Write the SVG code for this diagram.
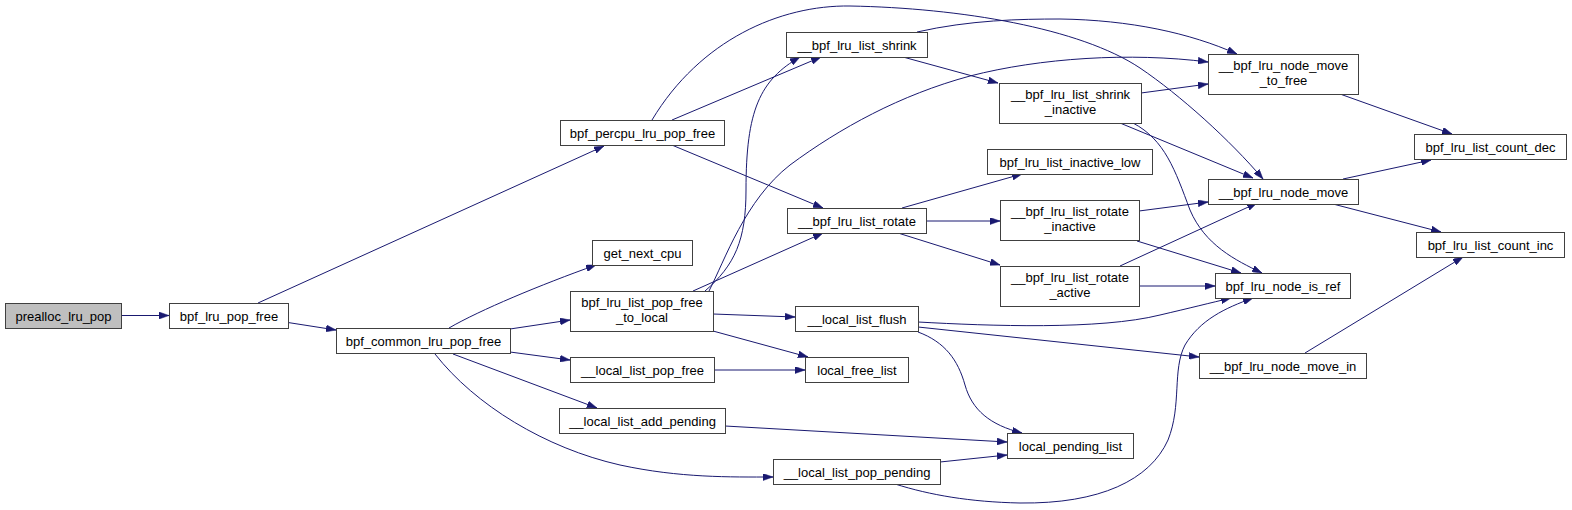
<svg xmlns="http://www.w3.org/2000/svg" width="1572" height="510" viewBox="0 0 1572 510">
<style>
.n rect{fill:#fff;stroke:#404040;stroke-width:1}
.n.root rect{fill:#bfbfbf}
.n text{font-family:"Liberation Sans",Arial,Helvetica,sans-serif;font-size:13px;fill:#000;text-anchor:middle}
.e path{fill:none;stroke:#191970;stroke-width:1;marker-end:url(#ah)}
</style>
<defs>
<marker id="ah" viewBox="0 0 10 7" refX="10" refY="3.5" markerWidth="10" markerHeight="7" markerUnits="userSpaceOnUse" orient="auto">
<path d="M0,0 L10,3.5 L0,7 z" fill="#191970" stroke="#191970" stroke-width="0.5"/>
</marker>
</defs>
<rect width="1572" height="510" fill="#fff"/>
<g id="connectors" class="e">
<path d="M121,315.5 L169,315.5"/>
<path d="M258,303 L604,146"/>
<path d="M288,322.5 L336,330"/>
<path d="M449,328 C480,310 540,285 596,265"/>
<path d="M510,329 L570,320"/>
<path d="M510,352 L570,360"/>
<path d="M453,354 L597,408"/>
<path d="M435,354 C475,405 545,448 620,465 C680,478 730,477 773,477"/>
<path d="M672,120 L821,57"/>
<path d="M673,145.5 L823,208"/>
<path d="M652,120 C700,40 780,5 850,6 C960,8 1080,28 1140,68 C1180,95 1230,140 1263,179"/>
<path d="M705,291 C735,265 746,240 746,190 C746,110 760,80 800,57"/>
<path d="M709,291 C725,260 745,200 790,165 C840,128 900,95 970,76 C1040,58 1130,52 1208,62"/>
<path d="M693,291 L823,233"/>
<path d="M713,314 L795,317"/>
<path d="M713,331 L808,357"/>
<path d="M714,370 L805,370"/>
<path d="M725,426 L1007,442"/>
<path d="M940,462 L1007,455"/>
<path d="M895,484 C930,495 970,502 1020,503 C1100,504 1150,480 1168,440 C1182,405 1172,370 1185,345 C1200,320 1225,308 1253,298"/>
<path d="M918,322 C990,326 1100,330 1160,315 C1190,308 1210,303 1231,298"/>
<path d="M918,327 L1199,357"/>
<path d="M918,332 C945,342 958,360 965,385 C972,410 990,425 1022,433"/>
<path d="M903,57 L998,83"/>
<path d="M917,32 C970,20 1020,19 1060,19 C1130,20 1190,33 1237,54"/>
<path d="M902,208 L1022,174"/>
<path d="M926,221 L1000,221"/>
<path d="M898,233 L1000,265"/>
<path d="M1141,93 L1208,84"/>
<path d="M1120,123 L1253,178"/>
<path d="M1133,123 C1165,140 1175,170 1190,210 C1205,245 1235,260 1262,273"/>
<path d="M1139,211 L1208,202"/>
<path d="M1137,241 L1241,273"/>
<path d="M1120,266 L1257,203"/>
<path d="M1139,286 L1215,286"/>
<path d="M1340,94 L1452,134"/>
<path d="M1343,179 L1431,160"/>
<path d="M1333,204 L1441,232"/>
<path d="M1305,353 L1463,257"/>
</g>
<g id="prealloc_lru_pop" class="n root"><rect x="5.5" y="303.5" width="116" height="25"/><text x="63.5" y="320.5">prealloc_lru_pop</text></g>
<g id="bpf_lru_pop_free" class="n"><rect x="169.5" y="303.5" width="119" height="25"/><text x="229" y="320.5">bpf_lru_pop_free</text></g>
<g id="bpf_common_lru_pop_free" class="n"><rect x="336.5" y="328.5" width="174" height="25"/><text x="423.5" y="345.5">bpf_common_lru_pop_free</text></g>
<g id="bpf_percpu_lru_pop_free" class="n"><rect x="560.5" y="120.5" width="164" height="25"/><text x="642.5" y="137.5">bpf_percpu_lru_pop_free</text></g>
<g id="get_next_cpu" class="n"><rect x="592.5" y="240.5" width="100" height="25"/><text x="642.5" y="257.5">get_next_cpu</text></g>
<g id="bpf_lru_list_pop_free_to_local" class="n"><rect x="570.5" y="291.5" width="143" height="40"/><text x="642" y="307">bpf_lru_list_pop_free</text><text x="642" y="322">_to_local</text></g>
<g id="__local_list_pop_free" class="n"><rect x="570.5" y="357.5" width="144" height="25"/><text x="642.5" y="374.5">__local_list_pop_free</text></g>
<g id="__local_list_add_pending" class="n"><rect x="559.5" y="408.5" width="166" height="25"/><text x="642.5" y="425.5">__local_list_add_pending</text></g>
<g id="__bpf_lru_list_shrink" class="n"><rect x="786.5" y="32.5" width="141" height="25"/><text x="857" y="49.5">__bpf_lru_list_shrink</text></g>
<g id="__bpf_lru_list_rotate" class="n"><rect x="787.5" y="208.5" width="139" height="25"/><text x="857" y="225.5">__bpf_lru_list_rotate</text></g>
<g id="__local_list_flush" class="n"><rect x="795.5" y="306.5" width="123" height="25"/><text x="857" y="323.5">__local_list_flush</text></g>
<g id="local_free_list" class="n"><rect x="805.5" y="357.5" width="103" height="25"/><text x="857" y="374.5">local_free_list</text></g>
<g id="__local_list_pop_pending" class="n"><rect x="773.5" y="459.5" width="167" height="25"/><text x="857" y="476.5">__local_list_pop_pending</text></g>
<g id="__bpf_lru_list_shrink_inactive" class="n"><rect x="999.5" y="83.5" width="142" height="40"/><text x="1070.5" y="99">__bpf_lru_list_shrink</text><text x="1070.5" y="114">_inactive</text></g>
<g id="bpf_lru_list_inactive_low" class="n"><rect x="987.5" y="149.5" width="165" height="25"/><text x="1070" y="166.5">bpf_lru_list_inactive_low</text></g>
<g id="__bpf_lru_list_rotate_inactive" class="n"><rect x="1000.5" y="200.5" width="139" height="40"/><text x="1070" y="216">__bpf_lru_list_rotate</text><text x="1070" y="231">_inactive</text></g>
<g id="__bpf_lru_list_rotate_active" class="n"><rect x="1000.5" y="266.5" width="139" height="40"/><text x="1070" y="282">__bpf_lru_list_rotate</text><text x="1070" y="297">_active</text></g>
<g id="local_pending_list" class="n"><rect x="1007.5" y="433.5" width="126" height="25"/><text x="1070.5" y="450.5">local_pending_list</text></g>
<g id="__bpf_lru_node_move_to_free" class="n"><rect x="1208.5" y="54.5" width="150" height="40"/><text x="1283.5" y="70">__bpf_lru_node_move</text><text x="1283.5" y="85">_to_free</text></g>
<g id="__bpf_lru_node_move" class="n"><rect x="1208.5" y="179.5" width="150" height="25"/><text x="1283.5" y="196.5">__bpf_lru_node_move</text></g>
<g id="bpf_lru_node_is_ref" class="n"><rect x="1215.5" y="273.5" width="135" height="25"/><text x="1283" y="290.5">bpf_lru_node_is_ref</text></g>
<g id="__bpf_lru_node_move_in" class="n"><rect x="1199.5" y="353.5" width="167" height="25"/><text x="1283" y="370.5">__bpf_lru_node_move_in</text></g>
<g id="bpf_lru_list_count_dec" class="n"><rect x="1414.5" y="134.5" width="152" height="25"/><text x="1490.5" y="151.5">bpf_lru_list_count_dec</text></g>
<g id="bpf_lru_list_count_inc" class="n"><rect x="1416.5" y="232.5" width="148" height="25"/><text x="1490.5" y="249.5">bpf_lru_list_count_inc</text></g>
</svg>
